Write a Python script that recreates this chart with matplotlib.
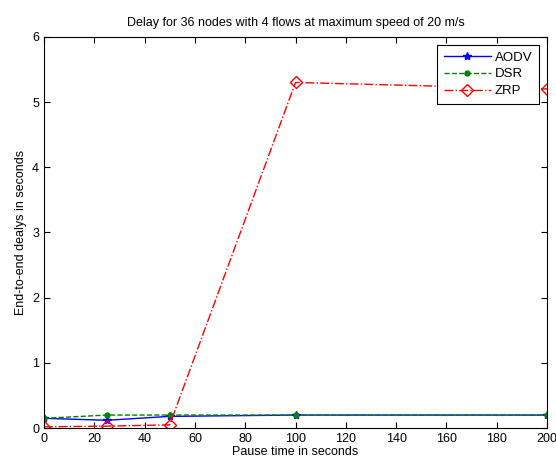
import matplotlib
matplotlib.use('Agg')
import matplotlib.pyplot as plt

pause = [0, 25, 50, 100, 200]
aodv = [0.15, 0.12, 0.18, 0.20, 0.20]
dsr = [0.15, 0.20, 0.20, 0.20, 0.20]
zrp = [0.02, 0.03, 0.05, 5.30, 5.20]

plt.rcParams['font.family'] = ['Liberation Sans', 'DejaVu Sans']

fig = plt.figure(figsize=(5.56, 4.72), dpi=100)
ax = fig.add_axes([0.079, 0.093, 0.905, 0.829])

ax.plot(pause, aodv, '-', color='#0000ff', marker='*', ms=6, lw=1, label='AODV')
ax.plot(pause, dsr, '--', color='#008000', marker='.', ms=7, lw=1, label='DSR')
ax.plot(pause, zrp, '-.', color='#ff0000', marker='D', ms=6, lw=1,
        mfc='none', label='ZRP')

ax.set_xlim(0, 200)
ax.set_ylim(0, 6)
ax.set_xticks(range(0, 201, 20))
ax.set_yticks(range(0, 7))
ax.tick_params(direction='in', labelsize=9, length=4, top=True, right=True)
ax.set_xlabel('Pause time in seconds', fontsize=9, labelpad=1)
ax.set_ylabel('End-to-end dealys in seconds', fontsize=9, labelpad=4)
ax.set_title('Delay for 36 nodes with 4 flows at maximum speed of 20 m/s',
             fontsize=9, pad=8)
leg = ax.legend(loc='upper right', fontsize=9.5, fancybox=False, framealpha=1,
                edgecolor='black', borderaxespad=0.6, handlelength=3.6,
                labelspacing=0.35, borderpad=0.5, handletextpad=0.3)
leg.get_frame().set_linewidth(0.8)

fig.savefig('out.png', dpi=100)
